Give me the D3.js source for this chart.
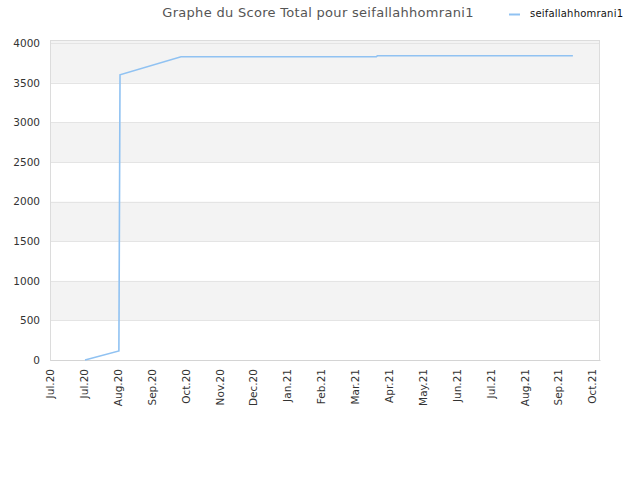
<!DOCTYPE html>
<html>
<head>
<meta charset="utf-8">
<script src="https://cdn.jsdelivr.net/npm/d3@7"></script>
<style>
  body { margin: 0; background: #fff; }
  svg { display: block; font-family: "DejaVu Sans", sans-serif; }
</style>
</head>
<body>
<svg id="chart" width="640" height="480"></svg>
<script>
const title = "Graphe du Score Total pour seifallahhomrani1";
const seriesName = "seifallahhomrani1";

// score history (date, total score)
const dates = ["2020-08-01", "2020-08-31", "2020-09-01", "2020-10-25", "2021-04-16", "2021-04-17", "2021-10-07"];
const scores = [0, 114, 3600, 3829, 3829, 3842, 3842];

// x ticks every 30 days, as the original chart did
const tickDates = ["2020-07-01", "2020-07-31", "2020-08-30", "2020-09-29", "2020-10-29", "2020-11-28",
  "2020-12-28", "2021-01-27", "2021-02-26", "2021-03-28", "2021-04-27", "2021-05-27",
  "2021-06-26", "2021-07-26", "2021-08-25", "2021-09-24", "2021-10-24"];
const yTicks = [0, 500, 1000, 1500, 2000, 2500, 3000, 3500, 4000];

const parse = d3.timeParse("%Y-%m-%d");
const data = dates.map((d, i) => ({ date: parse(d), value: scores[i] }));

const svg = d3.select("#chart");
const geom = { left: 50, right: 600, top: 40, bottom: 360 };

const x = d3.scaleTime()
  .domain([parse("2020-07-01"), parse("2021-10-31")])
  .range([geom.left, geom.right]);
const y = d3.scaleLinear()
  .domain([0, 4040])
  .range([geom.bottom, geom.top]);

/* alternating bands */
const bands = yTicks.slice(0, -1).map((v, i) => [v, yTicks[i + 1]]).filter((d, i) => i % 2 === 1);
bands.push([4000, 4040]);
svg.append("g")
  .selectAll("rect")
  .data(bands)
  .enter()
  .append("rect")
  .attr("x", geom.left)
  .attr("width", geom.right - geom.left)
  .attr("y", (d) => y(d[1]))
  .attr("height", (d) => y(d[0]) - y(d[1]))
  .attr("fill", "#f3f3f3");

/* gridlines */
svg.append("g")
  .selectAll("line")
  .data(yTicks)
  .enter()
  .append("line")
  .attr("x1", geom.left)
  .attr("x2", geom.right)
  .attr("y1", (d) => Math.round(y(d)) + 0.5)
  .attr("y2", (d) => Math.round(y(d)) + 0.5)
  .attr("stroke", "#e4e4e4");

/* frame */
svg.append("rect")
  .attr("x", geom.left + 0.5)
  .attr("y", geom.top + 0.5)
  .attr("width", geom.right - geom.left - 1)
  .attr("height", geom.bottom - geom.top)
  .attr("fill", "none")
  .attr("stroke", "#dcdcdc");

/* y axis */
const yAxis = svg.append("g")
  .attr("transform", `translate(${geom.left},0)`)
  .call(d3.axisLeft(y).tickValues(yTicks).tickFormat(d3.format("d")).tickSize(0).tickPadding(10));
yAxis.select(".domain").remove();
yAxis.selectAll("text").attr("fill", "#333").attr("font-size", "10.5px").attr("font-family", "DejaVu Sans");

/* x axis */
const xAxis = svg.append("g")
  .attr("transform", `translate(0,${geom.bottom})`)
  .call(d3.axisBottom(x).tickValues(tickDates.map(parse)).tickFormat(d3.timeFormat("%b.%y")).tickSize(0));
xAxis.select(".domain").attr("stroke", "#d4d4d4");
xAxis.selectAll("text")
  .attr("transform", "rotate(-90)")
  .attr("text-anchor", "end")
  .attr("x", -9)
  .attr("y", 0)
  .attr("dy", "0.35em")
  .attr("fill", "#333")
  .attr("font-size", "10.5px")
  .attr("font-family", "DejaVu Sans");

/* score line */
const line = d3.line()
  .x((d) => x(d.date))
  .y((d) => y(d.value));
svg.append("path")
  .datum(data)
  .attr("fill", "none")
  .attr("stroke", "#90c2f2")
  .attr("stroke-width", 1.6)
  .attr("d", line);

/* title */
svg.append("text")
  .attr("x", 318)
  .attr("y", 17)
  .attr("text-anchor", "middle")
  .attr("font-size", "13px")
  .attr("fill", "#555")
  .attr("letter-spacing", "0.3px")
  .text(title);

/* legend */
svg.append("line")
  .attr("x1", 509).attr("x2", 520)
  .attr("y1", 14.5).attr("y2", 14.5)
  .attr("stroke", "#90c2f2")
  .attr("stroke-width", 2);
svg.append("text")
  .attr("x", 530)
  .attr("y", 17)
  .attr("font-size", "10px")
  .attr("fill", "#111")
  .attr("textLength", 93)
  .text(seriesName);
</script>
</body>
</html>
